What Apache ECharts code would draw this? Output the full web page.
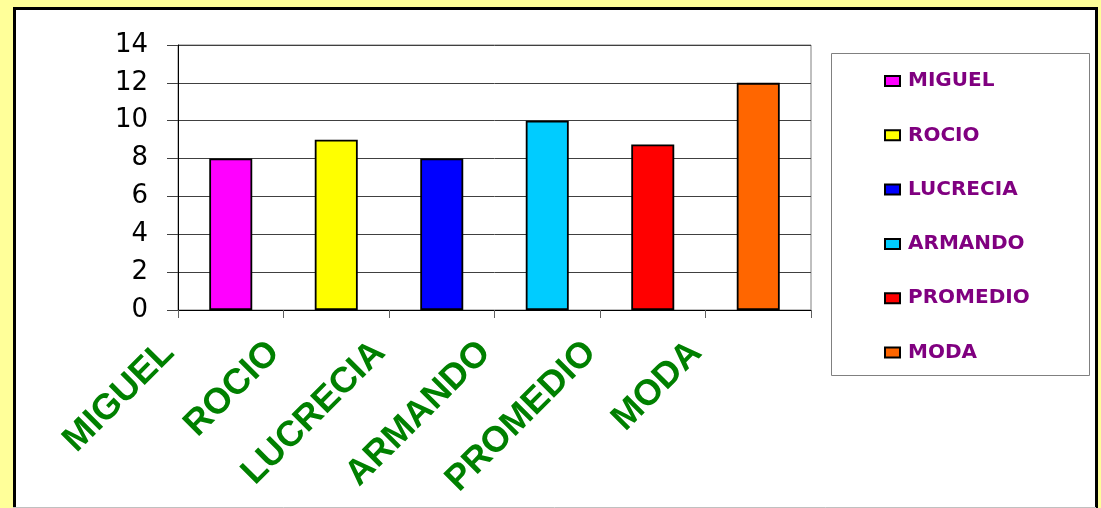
<!DOCTYPE html>
<html>
<head>
<meta charset="utf-8">
<script src="https://cdn.jsdelivr.net/npm/echarts@6/dist/echarts.min.js"></script>
<style>
html,body{margin:0;padding:0;background:#ffff99;}
#c{width:1101px;height:508px;}
</style>
</head>
<body>
<div id="c"></div>
<script>
const categories = ['MIGUEL', 'ROCIO', 'LUCRECIA', 'ARMANDO', 'PROMEDIO', 'MODA'];
const values = [8, 9, 8, 10, 8.75, 12];
const colors = ['#ff00ff', '#ffff00', '#0000ff', '#00ccff', '#ff0000', '#ff6600'];
const yTicks = [0, 2, 4, 6, 8, 10, 12, 14];

const chart = echarts.init(document.getElementById('c'), null, {renderer: 'canvas'});

const series = categories.map((name, i) => ({
  name: name,
  type: 'bar',
  stack: 'all',
  barWidth: 43,
  data: categories.map((c, j) => (j === i ? values[i] : '-')),
  itemStyle: {color: colors[i], borderColor: '#000', borderWidth: 1.8},
  emphasis: {disabled: true}
}));

chart.setOption({
  animation: false,
  backgroundColor: 'transparent',
  graphic: [
    {type: 'rect', z: -10, shape: {x: 14.5, y: 8.5, width: 1082, height: 510},
     style: {fill: '#ffffff', stroke: '#000000', lineWidth: 3}},
    {type: 'line', z: -9, shape: {x1: 13, y1: 507.5, x2: 1096, y2: 507.5},
     style: {stroke: '#c0c0c0', lineWidth: 1}},
    {type: 'rect', z: -5, shape: {x: 831.5, y: 53.5, width: 258, height: 322},
     style: {fill: '#ffffff', stroke: '#808080', lineWidth: 1}}
  ],
  grid: {left: 178, right: 290, top: 45, bottom: 198, outerBoundsMode: 'none', containLabel: false,
         show: true, borderColor: '#808080', borderWidth: 1, backgroundColor: 'transparent'},
  legend: {
    orient: 'vertical',
    left: 884,
    top: 71,
    padding: 0,
    itemWidth: 15,
    itemHeight: 10,
    itemGap: 34.3,
    icon: 'rect',
    data: categories,
    textStyle: {color: '#800080', fontWeight: 'bold', fontSize: 20, fontFamily: 'DejaVu Sans', padding: [0, 0, 0, 3]}
  },
  xAxis: {
    type: 'category',
    data: categories,
    axisLine: {lineStyle: {color: '#000', width: 1}},
    axisTick: {show: true, length: 8, lineStyle: {color: '#606060'}},
    axisLabel: {
      interval: 0,
      rotate: 45,
      margin: -25,
      padding: [0, 88, 0, 0],
      color: '#008000',
      fontWeight: 'bold',
      fontSize: 36,
      fontFamily: 'Liberation Sans, Arial'
    },
    splitLine: {show: false}
  },
  yAxis: {
    type: 'value',
    min: 0,
    max: 14,
    interval: 2,
    axisLine: {show: true, lineStyle: {color: '#000', width: 1}},
    axisTick: {show: true, length: 11, lineStyle: {color: '#404040'}},
    axisLabel: {
      margin: 30,
      color: '#000',
      fontSize: 26,
      fontFamily: 'DejaVu Sans',
      formatter: v => (yTicks.indexOf(v) >= 0 ? String(v) : '')
    },
    splitLine: {show: true, lineStyle: {color: '#404040', width: 1}}
  },
  series: series
});
</script>
</body>
</html>
